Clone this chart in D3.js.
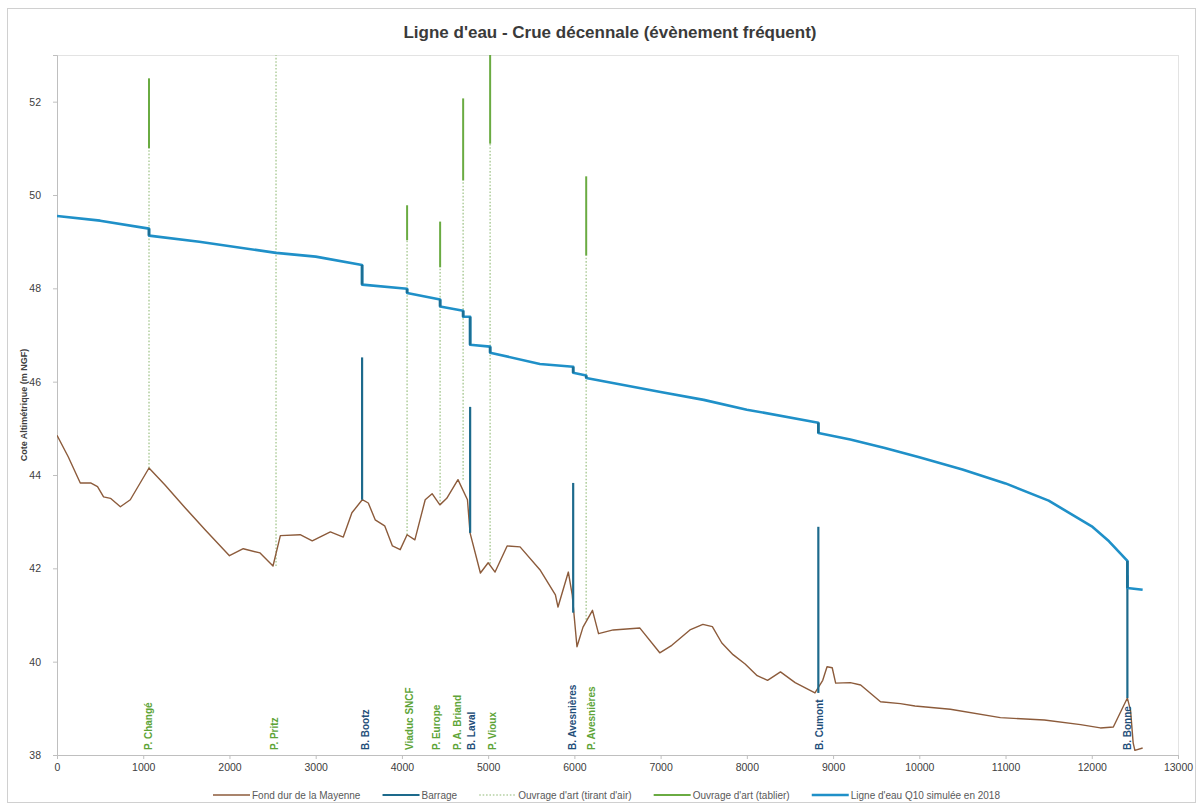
<!DOCTYPE html>
<html lang="fr">
<head>
<meta charset="utf-8">
<title>Ligne d'eau - Crue décennale</title>
<script src="https://cdn.jsdelivr.net/npm/d3@7"></script>
<style>
  html, body { margin: 0; padding: 0; background: #fff; }
  svg { display: block; font-family: "Liberation Sans", Arial, sans-serif; }
</style>
</head>
<body>
<svg id="chart" width="1203" height="809"></svg>
<script>
// ---- Données ----
// Profil en long du fond dur de la Mayenne (abscisse en m, cote en m NGF)
const bedX = [0, 130, 270, 390, 470, 540, 620, 735, 850, 1067, 1250, 1485, 1720, 2000, 2160, 2355, 2505, 2590, 2820, 2960, 3170, 3320, 3420, 3540, 3610, 3690, 3800, 3890, 3980, 4060, 4150, 4270, 4350, 4440, 4520, 4650, 4760, 4790, 4910, 5000, 5080, 5220, 5370, 5600, 5780, 5810, 5930, 5975, 6030, 6100, 6210, 6280, 6450, 6760, 6990, 7130, 7340, 7490, 7600, 7710, 7840, 7980, 8120, 8240, 8390, 8560, 8790, 8880, 8930, 8990, 9030, 9200, 9320, 9550, 9780, 9950, 10360, 10940, 11450, 11870, 12100, 12250, 12413, 12450, 12480, 12500, 12590];
const bedZ = [44.85, 44.39, 43.83, 43.83, 43.75, 43.53, 43.5, 43.32, 43.47, 44.15, 43.79, 43.3, 42.82, 42.27, 42.42, 42.33, 42.05, 42.7, 42.72, 42.59, 42.78, 42.67, 43.19, 43.47, 43.4, 43.04, 42.91, 42.48, 42.4, 42.72, 42.61, 43.47, 43.6, 43.36, 43.5, 43.9, 43.47, 42.76, 41.9, 42.12, 41.92, 42.48, 42.46, 41.97, 41.43, 41.17, 41.92, 41.43, 40.32, 40.74, 41.1, 40.6, 40.68, 40.72, 40.19, 40.35, 40.68, 40.8, 40.75, 40.4, 40.15, 39.95, 39.7, 39.6, 39.78, 39.55, 39.33, 39.6, 39.89, 39.87, 39.54, 39.55, 39.5, 39.14, 39.1, 39.05, 38.98, 38.8, 38.75, 38.65, 38.58, 38.6, 39.22, 38.95, 38.26, 38.1, 38.15];

// Ligne d'eau Q10 simulée en 2018 (les sauts verticaux correspondent aux ouvrages)
const waterX = [0, 500, 1067, 1067, 1650, 2540, 3000, 3538, 3538, 4060, 4060, 4443, 4443, 4710, 4710, 4791, 4791, 5023, 5023, 5600, 5986, 5986, 6137, 6137, 7000, 7500, 8000, 8829, 8829, 9200, 9600, 10000, 10500, 11000, 11500, 12000, 12200, 12413, 12413, 12590];
const waterZ = [49.55, 49.45, 49.28, 49.13, 49.0, 48.76, 48.68, 48.5, 48.08, 47.99, 47.9, 47.76, 47.61, 47.52, 47.39, 47.39, 46.79, 46.75, 46.62, 46.38, 46.32, 46.19, 46.13, 46.08, 45.78, 45.61, 45.4, 45.12, 44.9, 44.76, 44.58, 44.38, 44.12, 43.82, 43.45, 42.9, 42.58, 42.16, 41.58, 41.54];

// Barrages : abscisse, pied et crête
const barrageNames = ["B. Bootz", "B. Laval", "B. Avesnières", "B. Cumont", "B. Bonne"];
const barrageX = [3538, 4791, 5986, 8829, 12413];
const barrageLow = [43.47, 42.76, 41.05, 39.33, 39.22];
const barrageHigh = [46.52, 45.46, 43.83, 42.89, 41.85];

// Ouvrages d'art : abscisse, fond, tirant d'air (sous-face) et dessus du tablier
const ouvrageNames = ["P. Changé", "P. Pritz", "Viaduc SNCF", "P. Europe", "P. A. Briand", "P. Vioux", "P. Avesnières"];
const ouvrageX = [1067, 2540, 4060, 4443, 4710, 5023, 6137];
const ouvrageBed = [44.15, 42.05, 42.72, 43.36, 43.9, 42.1, 40.9];
const ouvrageTirant = [51.0, 54.0, 49.03, 48.45, 50.31, 51.1, 48.7];
const ouvrageTablier = [52.5, 55.0, 49.78, 49.43, 52.07, 54.0, 50.4];

// Graduations
const xTicks = [0, 1000, 2000, 3000, 4000, 5000, 6000, 7000, 8000, 9000, 10000, 11000, 12000, 13000];
const yTicks = [38, 40, 42, 44, 46, 48, 50, 52];

// ---- Mise en page ----
const W = 1203, H = 809;
const margin = { left: 57, right: 25, top: 55, bottom: 54 };
const plotW = W - margin.left - margin.right;
const plotH = H - margin.top - margin.bottom;

const colors = {
  bed: "#8c5b3b",
  barrage: "#1d6a8c",
  tirant: "#b5d1a3",
  tablier: "#6aab42",
  water: "#1f90c8",
  waterStep: "#1b6f94",
  bridgeLabel: "#5da437",
  barrageLabel: "#1f4e79",
  text: "#595959",
  axis: "#bfbfbf"
};

const svg = d3.select("#chart");

// cadre extérieur
svg.append("rect")
  .attr("x", 7.5).attr("y", 8.5)
  .attr("width", W - 15).attr("height", H - 15)
  .attr("fill", "#fff").attr("stroke", "#d0d0d0").attr("stroke-width", 1);

// titre
svg.append("text")
  .attr("x", 610).attr("y", 38)
  .attr("text-anchor", "middle")
  .attr("font-size", 17).attr("font-weight", "bold")
  .attr("fill", "#3a3a3a")
  .text("Ligne d'eau - Crue décennale (évènement fréquent)");

const x = d3.scaleLinear().domain([0, 13000]).range([0, plotW]);
const y = d3.scaleLinear().domain([38, 53]).range([plotH, 0]);

const g = svg.append("g").attr("transform", `translate(${margin.left},${margin.top})`);

g.append("defs").append("clipPath").attr("id", "plotClip")
  .append("rect").attr("x", 0).attr("y", 0).attr("width", plotW).attr("height", plotH);

// bord de la zone de tracé
g.append("rect")
  .attr("x", 0.5).attr("y", 0.5)
  .attr("width", plotW).attr("height", plotH)
  .attr("fill", "none").attr("stroke", "#e3e3e3");

// axes
const xAxis = g.append("g")
  .attr("transform", `translate(0,${plotH})`)
  .call(d3.axisBottom(x).tickValues(xTicks).tickFormat(d3.format("d")).tickSize(4).tickPadding(5));
const yAxis = g.append("g")
  .call(d3.axisLeft(y).tickValues(yTicks).tickFormat(d3.format("d")).tickSize(4).tickPadding(12));

[xAxis, yAxis].forEach(a => {
  a.select(".domain").attr("stroke", colors.axis);
  a.selectAll(".tick line").attr("stroke", colors.axis);
  a.selectAll(".tick text").attr("fill", "#404040").attr("font-size", 10.5)
    .attr("font-family", "'Liberation Sans Narrow', 'Liberation Sans', Arial, sans-serif");
});

// titre de l'axe vertical
svg.append("text")
  .attr("transform", `translate(27,${margin.top + plotH / 2}) rotate(-90)`)
  .attr("text-anchor", "middle")
  .attr("font-size", 9).attr("font-weight", "bold")
  .attr("fill", "#404040")
  .text("Cote Altimétrique (m NGF)");

const marks = g.append("g").attr("clip-path", "url(#plotClip)");

// ouvrages d'art : tirant d'air (pointillé) et tablier (trait plein)
const ouvrages = ouvrageNames.map((n, i) => ({
  name: n, x: ouvrageX[i], bed: ouvrageBed[i], tirant: ouvrageTirant[i], tablier: ouvrageTablier[i]
}));
marks.selectAll("line.tirant").data(ouvrages).join("line")
  .attr("class", "tirant")
  .attr("x1", d => x(d.x)).attr("x2", d => x(d.x))
  .attr("y1", d => y(d.bed)).attr("y2", d => y(d.tirant))
  .attr("stroke", colors.tirant).attr("stroke-width", 1.6)
  .attr("stroke-dasharray", "1.6,1.8");
marks.selectAll("line.tablier").data(ouvrages).join("line")
  .attr("class", "tablier")
  .attr("x1", d => x(d.x)).attr("x2", d => x(d.x))
  .attr("y1", d => y(d.tirant)).attr("y2", d => y(d.tablier))
  .attr("stroke", colors.tablier).attr("stroke-width", 2);

// fond dur de la Mayenne
const bed = bedX.map((v, i) => [v, bedZ[i]]);
marks.append("path")
  .datum(bed)
  .attr("fill", "none")
  .attr("stroke", colors.bed).attr("stroke-width", 1.4)
  .attr("stroke-linejoin", "round")
  .attr("d", d3.line().x(d => x(d[0])).y(d => y(d[1])));

// barrages
const barrages = barrageNames.map((n, i) => ({ name: n, x: barrageX[i], low: barrageLow[i], high: barrageHigh[i] }));
marks.selectAll("line.barrage").data(barrages).join("line")
  .attr("class", "barrage")
  .attr("x1", d => x(d.x)).attr("x2", d => x(d.x))
  .attr("y1", d => y(d.low)).attr("y2", d => y(d.high))
  .attr("stroke", colors.barrage).attr("stroke-width", 2.2);

// ligne d'eau Q10
const water = waterX.map((v, i) => [v, waterZ[i]]);
marks.append("path")
  .datum(water)
  .attr("fill", "none")
  .attr("stroke", colors.water).attr("stroke-width", 2.6)
  .attr("stroke-linejoin", "round")
  .attr("d", d3.line().x(d => x(d[0])).y(d => y(d[1])));

// sauts de la ligne d'eau au droit des ouvrages, soulignés en plus foncé
const steps = d3.pairs(water).filter(([a, b]) => a[0] === b[0]);
marks.selectAll("line.step").data(steps).join("line")
  .attr("class", "step")
  .attr("x1", d => x(d[0][0])).attr("x2", d => x(d[1][0]))
  .attr("y1", d => y(d[0][1])).attr("y2", d => y(d[1][1]))
  .attr("stroke", colors.waterStep).attr("stroke-width", 2.6);

// étiquettes des ouvrages, verticales en pied de graphique
const labelShift = { "P. Changé": -1, "P. Pritz": -2, "B. Bootz": 3, "Viaduc SNCF": 2, "P. Europe": -4,
  "P. A. Briand": -6, "B. Laval": 1, "P. Vioux": 2, "B. Avesnières": -1, "P. Avesnières": 5, "B. Cumont": 1, "B. Bonne": 0 };
const labels = ouvrages.map(d => ({ name: d.name, x: d.x, color: colors.bridgeLabel }))
  .concat(barrages.map(d => ({ name: d.name, x: d.x, color: colors.barrageLabel })));
g.selectAll("text.struct").data(labels).join("text")
  .attr("class", "struct")
  .attr("transform", d => `translate(${x(d.x) + labelShift[d.name] + 4},${plotH - 5}) rotate(-90)`)
  .attr("font-size", 10).attr("font-weight", "bold")
  .attr("fill", d => d.color)
  .text(d => d.name);

// légende, répartie entre 213 et 1000 px
const legendItems = [
  { label: "Fond dur de la Mayenne", color: colors.bed, dash: null, w: 1.4 },
  { label: "Barrage", color: colors.barrage, dash: null, w: 2 },
  { label: "Ouvrage d'art (tirant d'air)", color: colors.tirant, dash: "1.6,1.8", w: 1.6 },
  { label: "Ouvrage d'art (tablier)", color: colors.tablier, dash: null, w: 2 },
  { label: "Ligne d'eau Q10 simulée en 2018", color: colors.water, dash: null, w: 2.4 }
];
const legend = svg.append("g");
const sampleW = 37, legendY = 795, legendLeft = 213, legendRight = 1000;
const items = legendItems.map(it => {
  const item = legend.append("g");
  item.append("line")
    .attr("x1", 0).attr("x2", sampleW).attr("y1", legendY).attr("y2", legendY)
    .attr("stroke", it.color).attr("stroke-width", it.w)
    .attr("stroke-dasharray", it.dash);
  const t = item.append("text")
    .attr("x", sampleW + 2).attr("y", legendY + 3.5)
    .attr("font-size", 10).attr("fill", colors.text)
    .text(it.label);
  return { node: item, w: sampleW + 2 + t.node().getComputedTextLength() };
});
const gap = (legendRight - legendLeft - d3.sum(items, d => d.w)) / (items.length - 1);
let cursor = legendLeft;
items.forEach(it => { it.node.attr("transform", `translate(${cursor},0)`); cursor += it.w + gap; });
</script>
</body>
</html>
